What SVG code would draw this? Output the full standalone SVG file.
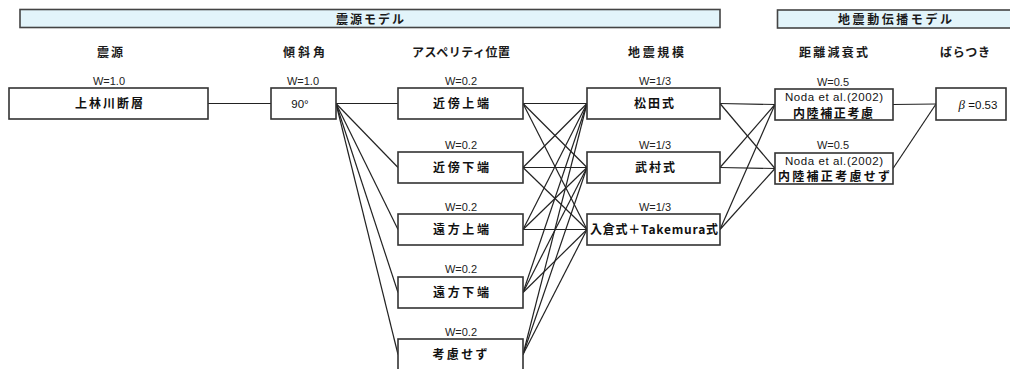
<svg xmlns="http://www.w3.org/2000/svg" width="1010" height="369" viewBox="0 0 1010 369">
<style>
.bg{fill:#ffffff}
.bar{fill:#e2f4fa;stroke:#444;stroke-width:1.6}
.box{fill:#ffffff;stroke:#333;stroke-width:1.6}
.h{font-family:"Noto Sans CJK JP","Noto Sans CJK SC",sans-serif;font-weight:bold;font-size:12px;fill:#1a1a1a;text-anchor:middle}
.t{font-family:"Noto Sans CJK JP","Noto Sans CJK SC",sans-serif;font-weight:bold;font-size:12px;fill:#111;text-anchor:middle}
.n{font-family:"Liberation Sans","Noto Sans CJK JP",sans-serif;font-size:11.5px;fill:#111;text-anchor:middle}
.w{font-family:"Liberation Sans",Arial,sans-serif;font-size:11px;fill:#222;text-anchor:middle}
.c{stroke:#222;stroke-width:1.2;fill:none}
</style>
<rect class="bg" x="0" y="0" width="1010" height="369"/>

<g id="model-bars">
<g id="bar-source">
<rect class="bar" x="20" y="9.5" width="700" height="18"/>
<text class="h" x="370" y="23.5" textLength="68">震源モデル</text>
</g>
<g id="bar-propagation">
<rect class="bar" x="777.5" y="10" width="240" height="18"/>
<text class="h" x="895" y="24" textLength="114">地震動伝播モデル</text>
</g>
</g>

<g id="column-headers">
<text class="h" x="110" y="56.5" textLength="26">震源</text>
<text class="h" x="304" y="56.5" textLength="42">傾斜角</text>
<text class="h" x="461" y="56.5" textLength="98">アスペリティ位置</text>
<text class="h" x="656" y="56.5" textLength="56">地震規模</text>
<text class="h" x="833.5" y="56.5" textLength="69">距離減衰式</text>
<text class="h" x="965" y="56.5" textLength="50">ばらつき</text>
</g>

<g id="connectors">
<line class="c" x1="208" y1="103.5" x2="271" y2="103.5"/>
<line class="c" x1="336" y1="103.5" x2="398" y2="103.5"/>
<line class="c" x1="336" y1="103.5" x2="398" y2="167.5"/>
<line class="c" x1="336" y1="103.5" x2="398" y2="229.5"/>
<line class="c" x1="336" y1="103.5" x2="398" y2="292.5"/>
<line class="c" x1="336" y1="103.5" x2="398" y2="354.5"/>

<line class="c" x1="523" y1="103.5" x2="587" y2="103.5"/>
<line class="c" x1="523" y1="103.5" x2="587" y2="167.5"/>
<line class="c" x1="523" y1="103.5" x2="587" y2="229.5"/>
<line class="c" x1="523" y1="167.5" x2="587" y2="103.5"/>
<line class="c" x1="523" y1="167.5" x2="587" y2="167.5"/>
<line class="c" x1="523" y1="167.5" x2="587" y2="229.5"/>
<line class="c" x1="523" y1="229.5" x2="587" y2="103.5"/>
<line class="c" x1="523" y1="229.5" x2="587" y2="167.5"/>
<line class="c" x1="523" y1="229.5" x2="587" y2="229.5"/>
<line class="c" x1="523" y1="292.5" x2="587" y2="103.5"/>
<line class="c" x1="523" y1="292.5" x2="587" y2="167.5"/>
<line class="c" x1="523" y1="292.5" x2="587" y2="229.5"/>
<line class="c" x1="523" y1="354.5" x2="587" y2="103.5"/>
<line class="c" x1="523" y1="354.5" x2="587" y2="167.5"/>
<line class="c" x1="523" y1="354.5" x2="587" y2="229.5"/>

<line class="c" x1="720" y1="103.5" x2="775" y2="104.5"/>
<line class="c" x1="720" y1="103.5" x2="775" y2="168.5"/>
<line class="c" x1="720" y1="167.5" x2="775" y2="104.5"/>
<line class="c" x1="720" y1="167.5" x2="775" y2="168.5"/>
<line class="c" x1="720" y1="229.5" x2="775" y2="104.5"/>
<line class="c" x1="720" y1="229.5" x2="775" y2="168.5"/>

<line class="c" x1="893" y1="104.5" x2="936" y2="104"/>
<line class="c" x1="893" y1="168.5" x2="936" y2="104"/>
</g>

<g id="node-fault">
<text class="w" x="109" y="85">W=1.0</text>
<rect class="box" x="9" y="88" width="199" height="31"/>
<text class="t" x="109" y="108" textLength="68">上林川断層</text>
</g>

<g id="node-dip">
<text class="w" x="303" y="85">W=1.0</text>
<rect class="box" x="271" y="88" width="65" height="31"/>
<text class="n" x="300" y="108" font-size="12.5">90°</text>
</g>

<g id="node-asp-1">
<text class="w" x="461" y="85">W=0.2</text>
<rect class="box" x="398" y="88" width="125" height="31"/>
<text class="t" x="461" y="108" textLength="56">近傍上端</text>
</g>
<g id="node-asp-2">
<text class="w" x="461" y="149">W=0.2</text>
<rect class="box" x="398" y="152" width="125" height="31"/>
<text class="t" x="461" y="172" textLength="56">近傍下端</text>
</g>
<g id="node-asp-3">
<text class="w" x="461" y="211">W=0.2</text>
<rect class="box" x="398" y="214" width="125" height="31"/>
<text class="t" x="461" y="234" textLength="56">遠方上端</text>
</g>
<g id="node-asp-4">
<text class="w" x="461" y="273">W=0.2</text>
<rect class="box" x="398" y="277" width="125" height="31"/>
<text class="t" x="461" y="297" textLength="56">遠方下端</text>
</g>
<g id="node-asp-5">
<text class="w" x="461" y="335.5">W=0.2</text>
<rect class="box" x="398" y="339" width="125" height="32"/>
<text class="t" x="460" y="359" textLength="55">考慮せず</text>
</g>

<g id="node-mag-1">
<text class="w" x="655" y="85">W=1/3</text>
<rect class="box" x="587" y="88" width="133" height="31"/>
<text class="t" x="654" y="108" textLength="40">松田式</text>
</g>
<g id="node-mag-2">
<text class="w" x="655" y="149">W=1/3</text>
<rect class="box" x="587" y="152" width="133" height="31"/>
<text class="t" x="655" y="172" textLength="40">武村式</text>
</g>
<g id="node-mag-3">
<text class="w" x="655" y="211">W=1/3</text>
<rect class="box" x="587" y="214" width="133" height="31"/>
<text class="t" x="654" y="234" textLength="128">入倉式＋Takemura式</text>
</g>

<g id="node-gmpe-1">
<text class="w" x="833" y="86">W=0.5</text>
<rect class="box" x="775" y="89" width="118" height="31"/>
<text class="n" x="834" y="101" textLength="98">Noda et al.(2002)</text>
<text class="t" x="833" y="117.5" textLength="80">内陸補正考慮</text>
</g>
<g id="node-gmpe-2">
<text class="w" x="833" y="149">W=0.5</text>
<rect class="box" x="775" y="153" width="118" height="31"/>
<text class="n" x="834" y="164.5" textLength="98">Noda et al.(2002)</text>
<text class="t" x="834" y="181" textLength="112">内陸補正考慮せず</text>
</g>

<g id="node-sigma">
<rect class="box" x="936" y="88" width="70" height="32"/>
<text class="n" x="978" y="109"><tspan font-family="Liberation Serif" font-style="italic" font-size="13">β</tspan> =0.53</text>
</g>
</svg>
